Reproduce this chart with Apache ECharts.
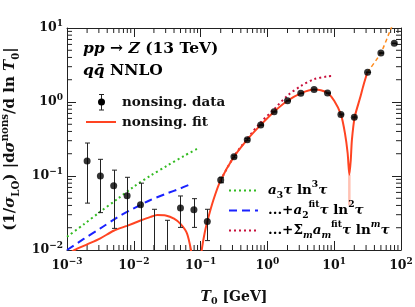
<!DOCTYPE html>
<html><head><meta charset="utf-8">
<script src="https://cdn.jsdelivr.net/npm/echarts@6/dist/echarts.min.js"></script>
<style>html,body{margin:0;padding:0;background:#fff;}#c{width:415px;height:307px;}</style>
</head><body><div id="c"></div>
<script>
// ---- tick labels (exponents of 10) ----
const xTickExps = [-3, -2, -1, 0, 1, 2];
const yTickExps = [-2, -1, 0, 1];

// ---- nonsingular data points ----
const dataX = [0.002, 0.00316, 0.005, 0.00794, 0.0126, 0.02, 0.0316, 0.05, 0.0794, 0.126, 0.2, 0.316, 0.5, 0.794, 1.26, 2, 3.16, 5, 7.94, 12.6, 20, 31.6, 50, 79.4];
const dataY = [0.16, 0.10, 0.074, 0.054, 0.041, 0.005, 0.004, 0.037, 0.035, 0.0243, 0.088, 0.182, 0.31, 0.49, 0.74, 1.04, 1.31, 1.47, 1.32, 0.68, 0.62, 2.52, 4.59, 6.2];
const errLow  = [0.043, 0.032, 0.0196, 0.005, 0.006, 0.001, 0.001, 0.0202, 0.0202, 0.0134, 0.081, 0.176, 0.30, 0.48, 0.73, 1.03, 1.30, 1.46, 1.31, 0.67, 0.61, 2.50, 4.55, 6.15];
const errHigh = [0.279, 0.168, 0.12, 0.096, 0.080, 0.0355, 0.0252, 0.0537, 0.0494, 0.0355, 0.096, 0.188, 0.32, 0.50, 0.75, 1.05, 1.32, 1.48, 1.33, 0.69, 0.63, 2.54, 4.63, 6.25];

// ---- nonsingular fit (absolute value) ----
const fitX = [0.001, 0.0013, 0.002, 0.00316, 0.005, 0.0079, 0.0126, 0.0178, 0.0224, 0.03, 0.04, 0.05, 0.0625, 0.0718, 0.078, 0.1, 0.104, 0.115, 0.126, 0.155, 0.2, 0.316, 0.5, 0.794, 1.26, 2, 3.16, 5, 6.3, 7.94, 10, 12.6, 14.5, 15.9, 16.85, 17.7, 18.4, 20.3, 24.3, 27.5, 31.4];
const fitY = [0.0085, 0.0100, 0.0119, 0.0144, 0.0182, 0.0212, 0.0250, 0.0280, 0.0297, 0.0293, 0.0265, 0.0225, 0.0168, 0.0100, 0.0060, 0.0060, 0.0100, 0.0170, 0.0243, 0.047, 0.088, 0.182, 0.31, 0.49, 0.74, 1.04, 1.31, 1.47, 1.44, 1.32, 1.04, 0.68, 0.377, 0.203, 0.104, 0.164, 0.306, 0.63, 1.12, 1.7, 2.52];
const dipX = [16.85, 16.85];
const dipY = [0.104, 0.04];
const extX = [31.4, 50, 70, 85];
const extY = [2.52, 4.6, 9.6, 14];

// ---- expansions ----
const greenX = [0.001, 0.00178, 0.00316, 0.0056, 0.01, 0.0178, 0.0316, 0.056, 0.092];
const greenY = [0.0151, 0.0222, 0.033, 0.0484, 0.0718, 0.101, 0.138, 0.186, 0.237];
const blueX = [0.001, 0.00178, 0.00316, 0.0056, 0.01, 0.0178, 0.0316, 0.05, 0.076];
const blueY = [0.0100, 0.0141, 0.0196, 0.0274, 0.0366, 0.0474, 0.0583, 0.068, 0.0796];
const crimX = [0.2, 0.316, 0.5, 0.794, 1.26, 2, 3.16, 5, 7.94, 9.7];
const crimY = [0.088, 0.184, 0.32, 0.53, 0.8, 1.22, 1.64, 2.03, 2.22, 2.24];

const SERIF = '"DejaVu Serif", "Liberation Serif", serif';
const INK = '#111';
const RED = '#ff4422';

function pairs(xs, ys) { return xs.map((x, i) => [x, ys[i]]); }
function expText(e) { return e < 0 ? '\u2212' + (-e) : String(e); }

const tickRich = {
  b: { fontFamily: SERIF, fontWeight: 'bold', fontSize: 12.5, lineHeight: 18, color: INK },
  s: { fontFamily: SERIF, fontWeight: 'bold', fontSize: 9, lineHeight: 9, verticalAlign: 'top', color: INK }
};
const mathRich = (fs) => ({
  n: { fontFamily: SERIF, fontWeight: 'bold', fontSize: fs, lineHeight: fs + 6, color: INK },
  i: { fontFamily: SERIF, fontWeight: 'bold', fontStyle: 'italic', fontSize: fs, lineHeight: fs + 6, color: INK },
  sub: { fontFamily: SERIF, fontWeight: 'bold', fontSize: fs * 0.68, lineHeight: fs * 0.68, verticalAlign: 'bottom', color: INK },
  isub: { fontFamily: SERIF, fontWeight: 'bold', fontStyle: 'italic', fontSize: fs * 0.68, lineHeight: fs * 0.68, verticalAlign: 'bottom', color: INK },
  sup: { fontFamily: SERIF, fontWeight: 'bold', fontSize: fs * 0.68, lineHeight: fs * 0.68, verticalAlign: 'top', color: INK },
  isup: { fontFamily: SERIF, fontWeight: 'bold', fontStyle: 'italic', fontSize: fs * 0.68, lineHeight: fs * 0.68, verticalAlign: 'top', color: INK }
});

function logLabel(v) {
  const e = Math.round(Math.log10(v));
  return '{b|10}{s|' + expText(e) + '}';
}

const axisCommon = {
  type: 'log', logBase: 10,
  axisLine: { show: true, onZero: false, lineStyle: { color: '#222', width: 1 } },
  axisTick: { show: true, inside: true, length: 9, lineStyle: { color: '#222', width: 1 } },
  splitLine: { show: false }, minorTick: { show: false }
};

// minor tick decorations (2..9 x 10^n), axis furniture only
const xMinor = [], yMinor = [];
for (let n = xTickExps[0]; n < xTickExps[xTickExps.length - 1]; n++) for (let m = 2; m <= 9; m++) xMinor.push([m * Math.pow(10, n), 1]);
for (let n = yTickExps[0]; n < yTickExps[yTickExps.length - 1]; n++) for (let m = 2; m <= 9; m++) yMinor.push([1, m * Math.pow(10, n)]);

const chart = echarts.init(document.getElementById('c'), null, { renderer: 'canvas' });

const option = {
  animation: false,
  backgroundColor: '#fff',
  grid: { left: 67, right: 14, top: 28, bottom: 57, containLabel: false, outerBoundsMode: 'none' },
  xAxis: [
    Object.assign({}, axisCommon, {
      min: Math.pow(10, xTickExps[0]), max: Math.pow(10, xTickExps[xTickExps.length - 1]), position: 'bottom',
      axisLabel: { formatter: logLabel, rich: tickRich, margin: 7 },
      name: '{i|T}{sub|0}{n| [GeV]}', nameLocation: 'middle', nameGap: 37,
      nameTextStyle: { rich: mathRich(14) }
    }),
    Object.assign({}, axisCommon, {
      min: Math.pow(10, xTickExps[0]), max: Math.pow(10, xTickExps[xTickExps.length - 1]), position: 'top',
      axisLabel: { show: false }
    })
  ],
  yAxis: [
    Object.assign({}, axisCommon, {
      min: Math.pow(10, yTickExps[0]), max: Math.pow(10, yTickExps[yTickExps.length - 1]), position: 'left',
      axisLabel: { formatter: logLabel, rich: tickRich, margin: 4 },
      name: '{n|(1/}{i|\u03c3}{sub|LO}{n|) |d}{i|\u03c3}{sup|nons}{n|/d ln }{i|T}{sub|0}{n||}',
      nameLocation: 'middle', nameRotate: 90, nameGap: 46,
      nameTextStyle: { rich: mathRich(15) }
    }),
    Object.assign({}, axisCommon, {
      min: Math.pow(10, yTickExps[0]), max: Math.pow(10, yTickExps[yTickExps.length - 1]), position: 'right',
      axisLabel: { show: false }
    })
  ],
  series: [
    { name: 'xminor', type: 'custom', silent: true, data: xMinor, encode: { x: 0, y: 1 }, clip: false,
      renderItem: (params, api) => {
        const cs = params.coordSys; const p = api.coord([api.value(0), api.value(1)]);
        const st = { stroke: '#222', lineWidth: 1 };
        return { type: 'group', children: [
          { type: 'line', shape: { x1: p[0], y1: cs.y + cs.height, x2: p[0], y2: cs.y + cs.height - 5 }, style: st },
          { type: 'line', shape: { x1: p[0], y1: cs.y, x2: p[0], y2: cs.y + 5 }, style: st } ] };
      } },
    { name: 'yminor', type: 'custom', silent: true, data: yMinor, encode: { x: 0, y: 1 }, clip: false,
      renderItem: (params, api) => {
        const cs = params.coordSys; const p = api.coord([api.value(0), api.value(1)]);
        const st = { stroke: '#222', lineWidth: 1 };
        return { type: 'group', children: [
          { type: 'line', shape: { x1: cs.x, y1: p[1], x2: cs.x + 5, y2: p[1] }, style: st },
          { type: 'line', shape: { x1: cs.x + cs.width, y1: p[1], x2: cs.x + cs.width - 5, y2: p[1] }, style: st } ] };
      } },
    { name: 'a3', type: 'line', data: pairs(greenX, greenY), showSymbol: false, symbol: 'none', smooth: 0.3, clip: true,
      lineStyle: { color: '#33bb22', width: 2, type: [2, 3] }, z: 3 },
    { name: 'a2', type: 'line', data: pairs(blueX, blueY), showSymbol: false, symbol: 'none', smooth: 0.3, clip: true,
      lineStyle: { color: '#1a22ff', width: 2, type: [8, 5] }, z: 3 },
    { name: 'sum', type: 'line', data: pairs(crimX, crimY), showSymbol: false, symbol: 'none', smooth: 0.3, clip: true,
      lineStyle: { color: '#c8103c', width: 2, type: [2, 3] }, z: 3 },
    { name: 'dip', type: 'line', data: pairs(dipX, dipY), showSymbol: false, symbol: 'none', clip: true,
      lineStyle: { color: '#ffc2b4', width: 2.5 }, z: 3 },
    { name: 'nonsing. fit', type: 'line', data: pairs(fitX, fitY), showSymbol: false, symbol: 'none', smooth: 0.25, clip: true,
      lineStyle: { color: RED, width: 2 }, z: 4 },
    { name: 'ext', type: 'line', data: pairs(extX, extY), showSymbol: false, symbol: 'none', smooth: 0.2, clip: true,
      lineStyle: { color: '#ff8c1e', width: 1.5, type: [4, 3] }, z: 4 },
    { name: 'errbars', type: 'custom', data: dataX.map((x, i) => [x, errLow[i], errHigh[i]]), encode: { x: 0, y: [1, 2] }, z: 5,
      renderItem: (params, api) => {
        const cs = params.coordSys;
        const x = api.value(0), lo = api.value(1), hi = api.value(2);
        const pHi = api.coord([x, hi]), pLo = api.coord([x, lo]);
        const top = cs.y, bottom = cs.y + cs.height;
        const y1 = Math.max(pHi[1], top), y2 = Math.min(pLo[1], bottom);
        if (!(y2 > y1)) return null;
        const st = { stroke: '#222', lineWidth: 1 };
        const px = Math.round(pHi[0]) + 0.5;
        const ch = [{ type: 'line', shape: { x1: px, y1: y1, x2: px, y2: y2 }, style: st }];
        if (pHi[1] >= top) ch.push({ type: 'line', shape: { x1: px - 2.5, y1: pHi[1], x2: px + 2.5, y2: pHi[1] }, style: st });
        if (pLo[1] <= bottom) ch.push({ type: 'line', shape: { x1: px - 2.5, y1: pLo[1], x2: px + 2.5, y2: pLo[1] }, style: st });
        return { type: 'group', children: ch };
      } },
    { name: 'nonsing. data', type: 'scatter', data: pairs(dataX, dataY), symbol: 'circle', symbolSize: 7, clip: true,
      itemStyle: { color: '#000' }, z: 6 }
  ],
  graphic: [
    { type: 'text', x: 83, y: 49, z: 10, style: { text: '{i|pp}{n| \u2192 }{i|Z}{n| (13 TeV)}', rich: mathRich(15.5), verticalAlign: 'middle', align: 'left' } },
    { type: 'text', x: 83, y: 71, z: 10, style: { text: '{i|q\u0071\u0304}{n| NNLO}', rich: mathRich(15.5), verticalAlign: 'middle', align: 'left' } },
    // legend 1
    { type: 'line', z: 10, shape: { x1: 101.5, y1: 94.5, x2: 101.5, y2: 110 }, style: { stroke: '#222', lineWidth: 1 } },
    { type: 'line', z: 10, shape: { x1: 99, y1: 94.5, x2: 104, y2: 94.5 }, style: { stroke: '#222', lineWidth: 1 } },
    { type: 'line', z: 10, shape: { x1: 99, y1: 110, x2: 104, y2: 110 }, style: { stroke: '#222', lineWidth: 1 } },
    { type: 'circle', z: 10, shape: { cx: 101.5, cy: 102, r: 3.5 }, style: { fill: '#000' } },
    { type: 'text', x: 122, y: 102, z: 10, style: { text: 'nonsing. data', font: 'bold 13.5px ' + SERIF, fill: INK, verticalAlign: 'middle' } },
    { type: 'line', z: 10, shape: { x1: 86, y1: 122, x2: 116, y2: 122 }, style: { stroke: RED, lineWidth: 2 } },
    { type: 'text', x: 122, y: 122, z: 10, style: { text: 'nonsing. fit', font: 'bold 13.5px ' + SERIF, fill: INK, verticalAlign: 'middle' } },
    // legend 2
    { type: 'line', z: 10, shape: { x1: 229, y1: 190.5, x2: 256, y2: 190.5 }, style: { stroke: '#33bb22', lineWidth: 2, lineDash: [2, 3] } },
    { type: 'text', x: 268, y: 190, z: 10, style: { text: '{i|a}{sub|3}{i|\u03c4}{n| ln}{sup|3}{i|\u03c4}', rich: mathRich(13.5), verticalAlign: 'middle' } },
    { type: 'line', z: 10, shape: { x1: 229, y1: 210.5, x2: 258, y2: 210.5 }, style: { stroke: '#1a22ff', lineWidth: 2, lineDash: [8, 5] } },
    { type: 'text', x: 268, y: 210, z: 10, style: { text: '{n|...+}{i|a}{sub|2}{sup|fit}{i|\u03c4}{n| ln}{sup|2}{i|\u03c4}', rich: mathRich(13.5), verticalAlign: 'middle' } },
    { type: 'line', z: 10, shape: { x1: 229, y1: 230.5, x2: 256, y2: 230.5 }, style: { stroke: '#c8103c', lineWidth: 2, lineDash: [2, 3] } },
    { type: 'text', x: 268, y: 230, z: 10, style: { text: '{n|...+\u03a3}{isub|m}{i|a}{isub|m}{sup|fit}{i|\u03c4}{n| ln}{isup|m}{i|\u03c4}', rich: mathRich(13.5), verticalAlign: 'middle' } }
  ]
};
chart.setOption(option);
</script>
</body></html>
